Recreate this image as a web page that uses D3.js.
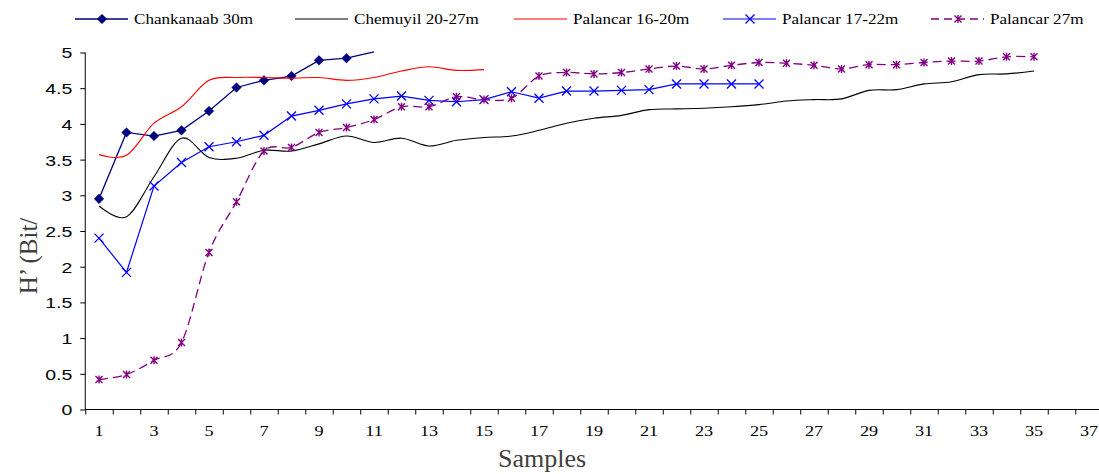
<!DOCTYPE html>
<html>
<head>
<meta charset="utf-8">
<title>H' by sample</title>
<script src="https://cdn.jsdelivr.net/npm/d3@7/dist/d3.min.js"></script>
<style>
body { margin: 0; background: #fff; }
svg { display: block; }
</style>
</head>
<body>
<script>
// sample numbers on the x axis
var samples = [1,2,3,4,5,6,7,8,9,10,11,12,13,14,15,16,17,18,19,20,21,22,23,24,25,26,27,28,29,30,31,32,33,34,35,36,37];
var xLabels = [1,3,5,7,9,11,13,15,17,19,21,23,25,27,29,31,33,35,37];
var yTicks = [0,0.5,1,1.5,2,2.5,3,3.5,4,4.5,5];

// H' values
var chankanaab = [2.95,3.88,3.83,3.91,4.18,4.51,4.61,4.67,4.89,4.92,5.01];
var chemuyil = [2.85,2.70,3.26,3.80,3.53,3.52,3.63,3.62,3.72,3.83,3.74,3.80,3.69,3.77,3.81,3.83,3.91,4.01,4.08,4.12,4.20,4.21,4.22,4.24,4.27,4.32,4.34,4.35,4.47,4.48,4.56,4.59,4.69,4.70,4.74];
var palancar1620 = [3.57,3.56,4.01,4.24,4.61,4.65,4.65,4.64,4.65,4.61,4.65,4.74,4.80,4.75,4.76];
var palancar1722 = [2.40,1.92,3.13,3.46,3.68,3.75,3.84,4.11,4.19,4.28,4.35,4.39,4.33,4.31,4.34,4.45,4.36,4.46,4.46,4.47,4.48,4.56,4.56,4.56,4.56];
var palancar27 = [0.42,0.49,0.69,0.94,2.20,2.91,3.62,3.67,3.88,3.95,4.06,4.24,4.24,4.38,4.34,4.36,4.67,4.72,4.70,4.72,4.77,4.81,4.77,4.82,4.86,4.85,4.82,4.77,4.83,4.83,4.86,4.88,4.88,4.94,4.94];

var names = ["Chankanaab 30m","Chemuyil 20-27m","Palancar 16-20m","Palancar 17-22m","Palancar 27m"];

var w = 1099, h = 474;
var svg = d3.select("body").append("svg").attr("width", w).attr("height", h);

var x = d3.scaleBand().domain(samples).range([85.25, 1102.75]).padding(0);
var xEdge = d3.scaleLinear().domain([0.5, 37.5]).range([85.25, 1102.75]);
var y = d3.scaleLinear().domain([0, 5]).range([409.5, 52.5]);
var cx = function(i){ return x(samples[i]) + x.bandwidth() / 2; };

var series = [
	{ name: names[0], values: chankanaab, color: "#000080", width: 1.3, smooth: false, dash: null, mark: "diamond", lx: 75 },
	{ name: names[1], values: chemuyil, color: "#000000", width: 1.1, smooth: true, dash: null, mark: null, lx: 295 },
	{ name: names[2], values: palancar1620, color: "#ff0000", width: 1.1, smooth: true, dash: null, mark: null, lx: 514 },
	{ name: names[3], values: palancar1722, color: "#0000ff", width: 1.2, smooth: false, dash: null, mark: "x", lx: 723 },
	{ name: names[4], values: palancar27, color: "#800080", width: 1.3, smooth: true, dash: "9,5", mark: "star", lx: 931 }
];

// axes
var yAxis = svg.append("g").attr("transform", "translate(85.25,0)")
	.call(d3.axisLeft(y).tickValues(yTicks).tickSize(5).tickFormat(d3.format("")));
yAxis.select(".domain").attr("d", "M0,409.5V52.5").attr("stroke", "#000");
yAxis.selectAll(".tick line").attr("stroke", "#000");
yAxis.selectAll(".tick text")
	.attr("x", -10).attr("dy", "0.36em")
	.attr("transform", "scale(1.3,1)")
	.style("font-family", "Arial, 'Liberation Sans', sans-serif")
	.style("font-size", "15px").attr("fill", "#000");

var xTicks = svg.append("g").attr("transform", "translate(0,409.5)")
	.call(d3.axisBottom(xEdge).tickValues(d3.range(0.5, 38, 1)).tickSize(5).tickFormat(""));
xTicks.select(".domain").attr("d", "M85.25,0H1102.75").attr("stroke", "#000");
xTicks.selectAll(".tick line").attr("stroke", "#000");

var xAxis = svg.append("g").attr("transform", "translate(0,409.5)")
	.call(d3.axisBottom(x).tickValues(xLabels).tickSize(0));
xAxis.select(".domain").remove();
xAxis.selectAll(".tick text")
	.attr("y", 27).attr("dy", 0)
	.attr("transform", "scale(1.3,1)")
	.style("font-family", "'Times New Roman', 'Liberation Serif', serif")
	.style("font-size", "14px").attr("fill", "#000");

// axis titles
svg.append("text").attr("x", 542).attr("y", 467).attr("text-anchor", "middle")
	.style("font-family", "'Times New Roman', 'Liberation Serif', serif")
	.style("font-size", "26px").attr("fill", "#404040").text("Samples");
svg.append("text").attr("transform", "translate(37,256) rotate(-90)").attr("text-anchor", "middle")
	.style("font-family", "'Times New Roman', 'Liberation Serif', serif")
	.style("font-size", "25px").attr("fill", "#404040").text("H\u2019 (Bit/");

// marker drawing
function drawMark(g, type, color) {
	if (type === "diamond") {
		g.append("path").attr("d", "M0,-4.8L4.8,0L0,4.8L-4.8,0Z").attr("fill", color).attr("stroke", color).attr("stroke-width", 0.5);
	} else if (type === "x") {
		g.append("path").attr("d", "M-4.5,-4.5L4.5,4.5M-4.5,4.5L4.5,-4.5").attr("stroke", color).attr("stroke-width", 1.3).attr("fill", "none");
	} else if (type === "star") {
		g.append("path").attr("d", "M-3.5,-3.5L3.5,3.5M-3.5,3.5L3.5,-3.5M0,-4V4").attr("stroke", color).attr("stroke-width", 1.4).attr("fill", "none");
	}
}

// lines and markers
series.forEach(function(s) {
	var line = d3.line()
		.x(function(d, i){ return cx(i); })
		.y(function(d){ return y(d); })
		.curve(s.smooth ? d3.curveCardinal.tension(0) : d3.curveLinear);
	svg.append("path").datum(s.values)
		.attr("d", line)
		.attr("fill", "none")
		.attr("stroke", s.color)
		.attr("stroke-width", s.width)
		.attr("stroke-dasharray", s.dash);
	if (s.mark) {
		s.values.forEach(function(v, i) {
			if (v > 5) return;
			var g = svg.append("g").attr("transform", "translate(" + cx(i) + "," + y(v) + ")");
			drawMark(g, s.mark, s.color);
		});
	}
});

// legend
series.forEach(function(s) {
	var lg = svg.append("g").attr("transform", "translate(" + s.lx + ",19)");
	lg.append("line").attr("x1", 0).attr("x2", 53).attr("y1", 0).attr("y2", 0)
		.attr("stroke", s.color).attr("stroke-width", s.width)
		.attr("stroke-dasharray", s.dash ? "8,5" : null);
	if (s.mark) {
		var mg = lg.append("g").attr("transform", "translate(27,0)");
		drawMark(mg, s.mark, s.color);
	}
	lg.append("text").attr("x", 59 / 1.14).attr("y", 5)
		.attr("transform", "scale(1.14,1)")
		.style("font-family", "'Times New Roman', 'Liberation Serif', serif")
		.style("font-size", "15px").attr("fill", "#000").text(s.name);
});
</script>
</body>
</html>
